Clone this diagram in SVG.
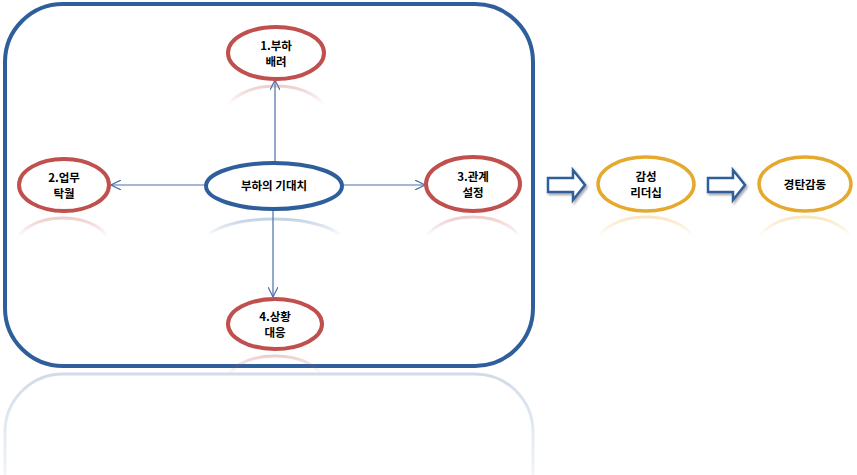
<svg xmlns="http://www.w3.org/2000/svg" width="857" height="475" viewBox="0 0 857 475">
<defs>
<style>
.frame{fill:none;stroke:#2F5F9B;stroke-width:4}
.red{fill:#fff;stroke:#C0504D;stroke-width:4}
.blue{fill:#fff;stroke:#2F5F9B;stroke-width:4}
.gold{fill:#fff;stroke:#E5A92E;stroke-width:3.5}
.lbl{font-family:"Noto Sans CJK KR","Noto Sans",sans-serif;font-weight:bold;font-size:11.5px;fill:#000;text-anchor:middle}
.conn{stroke:#4A70A8;stroke-width:1.2;fill:none}
.blk{fill:#fff;stroke:#2F5F9B;stroke-width:2.5;stroke-linejoin:miter}
.rr{fill:none;stroke:url(#gr);stroke-width:3}
.rb{fill:none;stroke:url(#gb);stroke-width:3}
.ry{fill:none;stroke:url(#gy);stroke-width:3}
</style>
<linearGradient id="gr" x1="0" y1="0" x2="0" y2="1">
<stop offset="0" stop-color="#C0504D" stop-opacity="0.28"/>
<stop offset="0.35" stop-color="#C0504D" stop-opacity="0"/>
</linearGradient>
<linearGradient id="gb" x1="0" y1="0" x2="0" y2="1">
<stop offset="0" stop-color="#2F5F9B" stop-opacity="0.28"/>
<stop offset="0.35" stop-color="#2F5F9B" stop-opacity="0"/>
</linearGradient>
<linearGradient id="gy" x1="0" y1="0" x2="0" y2="1">
<stop offset="0" stop-color="#E5A92E" stop-opacity="0.28"/>
<stop offset="0.35" stop-color="#E5A92E" stop-opacity="0"/>
</linearGradient>
<linearGradient id="gf" x1="0" y1="0" x2="0" y2="1">
<stop offset="0" stop-color="#2F5F9B" stop-opacity="0.22"/>
<stop offset="0.35" stop-color="#2F5F9B" stop-opacity="0.06"/>
<stop offset="0.5" stop-color="#2F5F9B" stop-opacity="0"/>
</linearGradient>
<marker id="ah" viewBox="0 0 10 10" refX="10" refY="5" markerWidth="10" markerHeight="10" markerUnits="userSpaceOnUse" orient="auto">
<path d="M0,0 L10,5 L0,10" fill="none" stroke="#4A70A8" stroke-width="1.2"/>
</marker>
<filter id="sh" x="-20%" y="-20%" width="150%" height="160%">
<feDropShadow dx="1.5" dy="2" stdDeviation="1.2" flood-color="#000" flood-opacity="0.35"/>
</filter>
</defs>

<g id="frame">
<rect class="frame" x="5" y="4" width="528" height="362" rx="58" ry="58"/>
<rect x="5" y="374" width="528" height="300" rx="58" ry="58" fill="none" stroke="url(#gf)" stroke-width="3"/>
</g>

<g id="reflections">
<ellipse class="rr" cx="276" cy="113" rx="49" ry="27"/>
<ellipse class="rr" cx="63" cy="245" rx="46" ry="27"/>
<ellipse class="rb" cx="274" cy="243" rx="69" ry="24"/>
<ellipse class="rr" cx="473" cy="245" rx="48" ry="28"/>
<ellipse class="ry" cx="646" cy="245" rx="49" ry="28"/>
<ellipse class="ry" cx="805" cy="245" rx="47" ry="28"/>
<ellipse class="rr" cx="275" cy="382" rx="48" ry="26"/>
</g>

<g id="connectors">
<line class="conn" x1="275" y1="162" x2="275" y2="80" marker-end="url(#ah)"/>
<line class="conn" x1="205" y1="185" x2="111" y2="185" marker-end="url(#ah)"/>
<line class="conn" x1="343" y1="185" x2="425" y2="185" marker-end="url(#ah)"/>
<line class="conn" x1="273" y1="210" x2="273" y2="297" marker-end="url(#ah)"/>
<path class="blk" filter="url(#sh)" d="M548,178 L573,178 L573,170 L585,185 L573,200 L573,192 L548,192 Z"/>
<path class="blk" filter="url(#sh)" d="M708,178 L733,178 L733,170 L745,185 L733,200 L733,192 L708,192 Z"/>
</g>

<g id="n1">
<ellipse class="red" cx="276" cy="53" rx="48" ry="26"/>
<text class="lbl" x="276" y="50">1.부하</text>
<text class="lbl" x="276" y="66">배려</text>
</g>
<g id="n2">
<ellipse class="red" cx="64" cy="185" rx="45" ry="26"/>
<text class="lbl" x="64" y="182">2.업무</text>
<text class="lbl" x="64" y="198">탁월</text>
</g>
<g id="center">
<ellipse class="blue" cx="274" cy="186" rx="68" ry="23"/>
<text class="lbl" x="274" y="190">부하의 기대치</text>
</g>
<g id="n3">
<ellipse class="red" cx="473" cy="184" rx="47" ry="27"/>
<text class="lbl" x="473" y="181">3.관계</text>
<text class="lbl" x="473" y="197">설정</text>
</g>
<g id="n4">
<ellipse class="red" cx="275" cy="324" rx="47" ry="25"/>
<text class="lbl" x="275" y="321">4.상황</text>
<text class="lbl" x="275" y="337">대응</text>
</g>
<g id="n5">
<ellipse class="gold" cx="646" cy="184" rx="48" ry="27"/>
<text class="lbl" x="646" y="181">감성</text>
<text class="lbl" x="646" y="197">리더십</text>
</g>
<g id="n6">
<ellipse class="gold" cx="805" cy="184" rx="46" ry="27"/>
<text class="lbl" x="805" y="189">경탄감동</text>
</g>
</svg>
